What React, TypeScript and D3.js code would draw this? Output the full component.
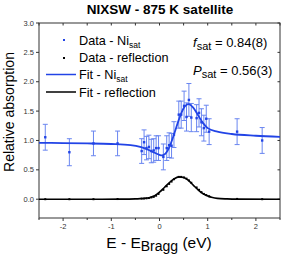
import React from "react";
import * as d3 from "d3";

// measured points, satellite yield
const dataE = [-2.37, -1.87, -1.37, -0.87, -0.37, -0.32, -0.27, -0.22, -0.17, -0.12, -0.07, -0.02, 0.08, 0.15, 0.2, 0.25, 0.3, 0.4, 0.45, 0.51, 0.56, 0.61, 0.66, 0.77, 0.82, 0.87, 0.92, 0.97, 1.03, 1.61, 2.13];
const dataNi = [1.055, 0.8, 0.95, 0.95, 0.82, 0.97, 0.87, 0.89, 0.82, 0.83, 0.87, 0.87, 0.72, 0.87, 0.92, 0.91, 1.1, 1.44, 1.44, 1.59, 1.4, 1.69, 1.39, 1.38, 1.47, 1.31, 1.21, 1.37, 1.15, 1.15, 1.0];
const dataErr = [0.22, 0.23, 0.21, 0.21, 0.21, 0.21, 0.2, 0.2, 0.2, 0.2, 0.21, 0.21, 0.22, 0.21, 0.21, 0.21, 0.22, 0.23, 0.23, 0.25, 0.24, 0.28, 0.24, 0.23, 0.24, 0.23, 0.22, 0.23, 0.22, 0.22, 0.22];
const dataRefl = [0, 0, 0, 0.003, 0.01, 0.012, 0.015, 0.02, 0.03, 0.04, 0.06, 0.09, 0.16, 0.22, 0.26, 0.3, 0.34, 0.38, 0.38, 0.37, 0.35, 0.32, 0.28, 0.2, 0.16, 0.12, 0.09, 0.07, 0.05, 0.005, 0];

// fitted curves
const fitE = [-2.5, -2, -1.5, -1, -0.6, -0.4, -0.2, -0.1, 0, 0.05, 0.1, 0.2, 0.3, 0.4, 0.5, 0.6, 0.7, 0.8, 0.9, 1.0, 1.2, 1.5, 2.0, 2.5];
const fitNi = [0.96, 0.955, 0.95, 0.94, 0.92, 0.89, 0.83, 0.79, 0.755, 0.745, 0.76, 0.88, 1.1, 1.35, 1.55, 1.62, 1.56, 1.43, 1.3, 1.21, 1.15, 1.11, 1.08, 1.06];
const fitReflE = [-2.5, -1.5, -0.8, -0.5, -0.4, -0.3, -0.2, -0.1, 0, 0.1, 0.2, 0.3, 0.4, 0.5, 0.6, 0.7, 0.8, 0.9, 1.0, 1.1, 1.2, 1.4, 1.6, 2.5];
const fitRefl = [0, 0, 0.002, 0.006, 0.01, 0.016, 0.03, 0.06, 0.12, 0.2, 0.28, 0.345, 0.38, 0.37, 0.32, 0.24, 0.16, 0.095, 0.055, 0.028, 0.014, 0.005, 0.001, 0];

const xTicks = [-2, -1, 0, 1, 2];
const xMinor = [-2.5, -1.5, -0.5, 0.5, 1.5, 2.5];
const yTicks = [0, 0.5, 1, 1.5, 2, 2.5, 3];

const BLUE = "#2244e6";
const BLUE_ERR = "#6a86f0";

export default function App() {
  const W = 282, H = 257;
  const L = 39, R = 280, T = 23, B = 218;
  const x = d3.scaleLinear().domain([-2.5, 2.5]).range([L, R]);
  const y = d3.scaleLinear().domain([-0.32, 3.0]).range([B, T]);

  const line = d3.line<[number, number]>().x((d) => x(d[0])).y((d) => y(d[1])).curve(d3.curveMonotoneX);
  const niPath = line(fitE.map((e, i) => [e, fitNi[i]]) as [number, number][]) || "";
  const reflPath = line(fitReflE.map((e, i) => [e, fitRefl[i]]) as [number, number][]) || "";

  const font = "Arial, 'Liberation Sans', sans-serif";
  const allX = [...xTicks, ...xMinor];

  return (
    <svg width={W} height={H} style={{ position: "absolute", left: 0, top: 0 }} fontFamily={font}>
      <rect width={W} height={H} fill="#fff" />
      <text x={160} y={13.5} textAnchor="middle" fontWeight="bold" fontSize={13.5}>NIXSW - 875 K satellite</text>

      {/* axes box */}
      <rect x={L} y={T} width={R - L} height={B - T} fill="none" stroke="#333" strokeWidth={1} />
      {xTicks.map((t) => (
        <g key={"xt" + t}>
          <line x1={x(t)} x2={x(t)} y1={B} y2={B + 3} stroke="#333" />
          <text x={x(t)} y={B + 11} textAnchor="middle" fontSize={7.5} fill="#333">{t}</text>
        </g>
      ))}
      {xMinor.map((t) => (
        <line key={"xm" + t} x1={x(t)} x2={x(t)} y1={B} y2={B + 2} stroke="#333" />
      ))}
      {allX.map((t) => (
        <line key={"xtop" + t} x1={x(t)} x2={x(t)} y1={T} y2={T + 2.5} stroke="#333" />
      ))}
      {yTicks.map((t) => (
        <g key={"yt" + t}>
          <line x1={L - 3} x2={L} y1={y(t)} y2={y(t)} stroke="#333" />
          <line x1={R - 2.5} x2={R} y1={y(t)} y2={y(t)} stroke="#333" />
          <text x={L - 5} y={y(t) + 2.5} textAnchor="end" fontSize={7.5} fill="#333">{t.toFixed(1)}</text>
        </g>
      ))}

      {/* axis titles */}
      <text transform={`translate(13.5,112) rotate(-90)`} textAnchor="middle" fontSize={14}>Relative absorption</text>
      <text x={159} y={248} textAnchor="middle" fontSize={15.5}>
        E - E<tspan fontSize={14} dy={3}>Bragg</tspan><tspan dy={-3}> (eV)</tspan>
      </text>

      {/* reflection */}
      <path d={reflPath} fill="none" stroke="#000" strokeWidth={1.6} />
      {dataE.map((e, i) => (
        <rect key={"rd" + i} x={x(e) - 1} y={y(dataRefl[i]) - 1} width={2} height={2} fill="#000" />
      ))}

      {/* satellite data with error bars */}
      {dataE.map((e, i) => {
        const cx = x(e);
        const y1 = y(dataNi[i] + dataErr[i]);
        const y2 = y(dataNi[i] - dataErr[i]);
        return (
          <g key={"eb" + i} stroke={BLUE_ERR} strokeWidth={1}>
            <line x1={cx} x2={cx} y1={y1} y2={y2} />
            <line x1={cx - 2.5} x2={cx + 2.5} y1={y1} y2={y1} />
            <line x1={cx - 2.5} x2={cx + 2.5} y1={y2} y2={y2} />
          </g>
        );
      })}
      <path d={niPath} fill="none" stroke={BLUE} strokeWidth={1.8} />
      {dataE.map((e, i) => (
        <rect key={"nd" + i} x={x(e) - 1.2} y={y(dataNi[i]) - 1.2} width={2.4} height={2.4} fill={BLUE} />
      ))}

      {/* legend */}
      <g fontSize={12.7}>
        <rect x={63} y={39} width={2} height={2} fill={BLUE} />
        <text x={79} y={45}>Data - Ni<tspan fontSize={8.5} dy={3}>sat</tspan></text>
        <rect x={63} y={57} width={2} height={2} fill="#000" />
        <text x={79} y={62}>Data - reflection</text>
        <line x1={46} x2={76} y1={74.5} y2={74.5} stroke={BLUE} strokeWidth={1.5} />
        <text x={79} y={79}>Fit - Ni<tspan fontSize={8.5} dy={3}>sat</tspan></text>
        <line x1={46} x2={76} y1={92} y2={92} stroke="#000" strokeWidth={1.5} />
        <text x={79} y={97}>Fit - reflection</text>
      </g>

      {/* fit results */}
      <g fontSize={13}>
        <text x={193} y={47}><tspan fontStyle="italic">f</tspan><tspan fontSize={11} dy={3}>sat</tspan><tspan dy={-3}> = 0.84(8)</tspan></text>
        <text x={193} y={75}><tspan fontStyle="italic">P</tspan><tspan fontSize={11} dy={3}>sat</tspan><tspan dy={-3}> = 0.56(3)</tspan></text>
      </g>
    </svg>
  );
}
